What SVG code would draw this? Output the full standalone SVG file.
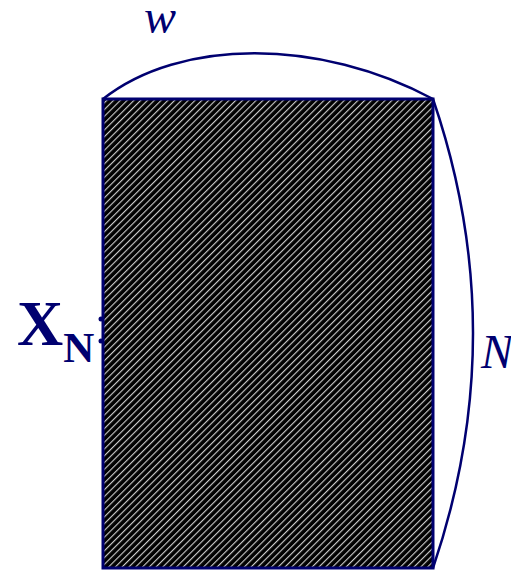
<svg xmlns="http://www.w3.org/2000/svg" width="511" height="571" viewBox="0 0 511 571">
  <defs>
    <linearGradient id="stripeGrad" x1="0" y1="0" x2="1" y2="0">
      <stop offset="0" stop-color="#000"/>
      <stop offset="0.5" stop-color="#e0e0e0"/>
      <stop offset="1" stop-color="#000"/>
    </linearGradient>
    <pattern id="hatch" patternUnits="userSpaceOnUse" width="4.8" height="10" patternTransform="rotate(45)">
      <rect x="0" y="0" width="4.8" height="10" fill="#000"/>
      <rect x="1.4" y="0" width="2.2" height="10" fill="url(#stripeGrad)"/>
    </pattern>
    <style>
      .edge { fill: none; stroke: #000070; stroke-width: 2.5; }
      .lbl { fill: #000070; font-family: "Liberation Serif", "Times New Roman", serif; }
    </style>
  </defs>
  <g id="block">
    <rect x="103" y="99" width="330" height="469" fill="url(#hatch)" stroke="#000070" stroke-width="3"/>
    <circle cx="101" cy="319" r="2.5" fill="#000070"/>
    <circle cx="101" cy="341" r="2.5" fill="#000070"/>
  </g>
  <g id="connectors">
    <path class="edge" d="M103,99 C180,38 320,38 433,99"/>
    <path class="edge" d="M433,99 Q513,333 433,568"/>
  </g>
  <g id="label-w">
    <text class="lbl" x="144" y="33" font-size="48" font-style="italic">w</text>
  </g>
  <g id="label-xn">
    <text class="lbl" x="17" y="345" font-size="64" font-weight="bold">X<tspan font-size="43" dy="17">N</tspan></text>
  </g>
  <g id="label-n">
    <text class="lbl" x="481" y="368" font-size="48" font-style="italic">N</text>
  </g>
</svg>
